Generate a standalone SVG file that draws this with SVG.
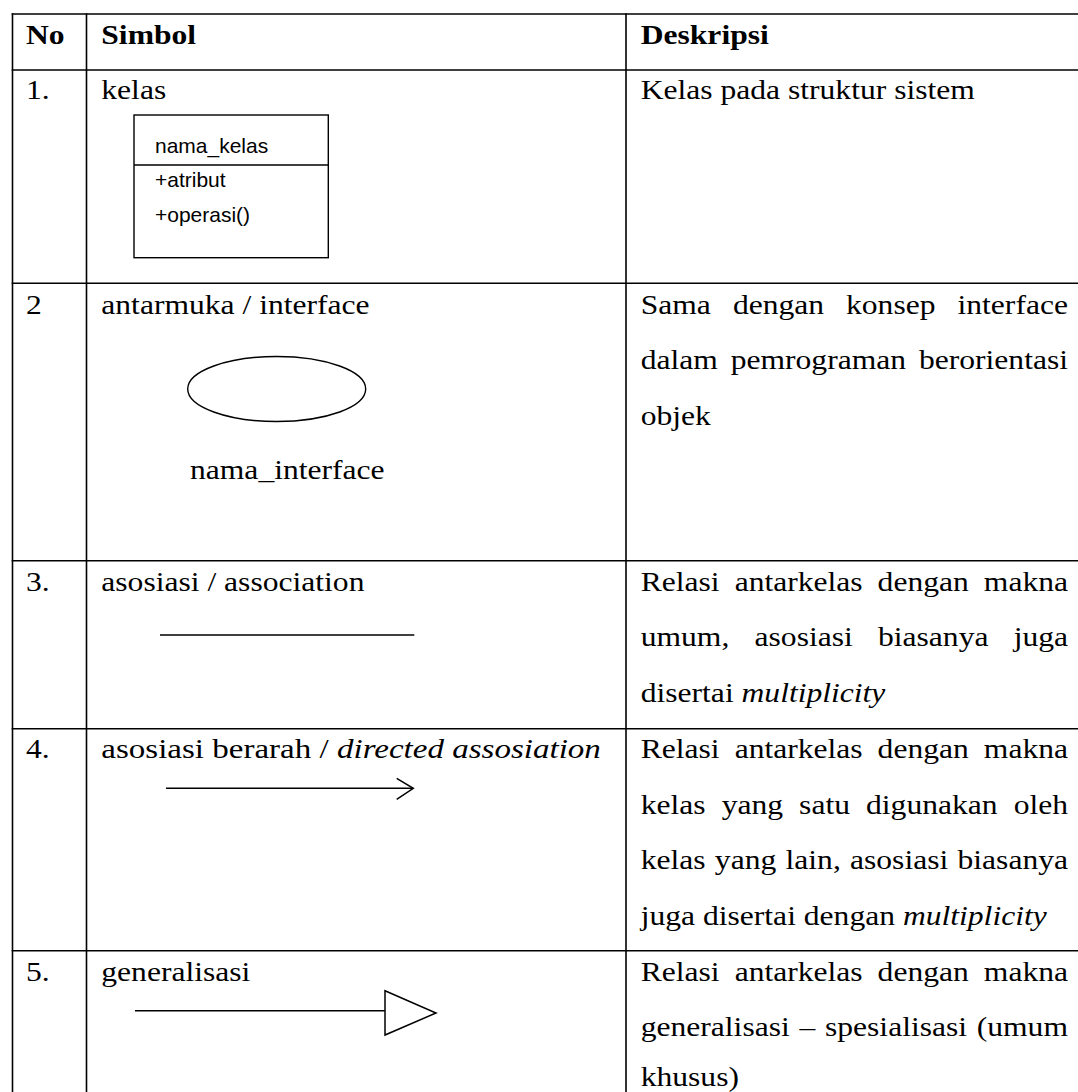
<svg xmlns="http://www.w3.org/2000/svg" width="1078" height="1092" viewBox="0 0 1078 1092">
<style>
.t{font-family:"Liberation Serif","Times New Roman",serif;font-size:27px;fill:#000}
.b{font-weight:bold}
.i{font-style:italic}
.s{font-family:"Liberation Sans",Arial,sans-serif;font-size:20px;fill:#000}
.grid line{stroke:#000;stroke-width:1.6}
.shape{fill:none;stroke:#000;stroke-width:1.4}
.conn{fill:none;stroke:#000;stroke-width:1.5}
</style>
<rect width="1078" height="1092" fill="#fff"/>
<g id="grid" class="grid">
<line x1="11.7" y1="14" x2="1078" y2="14"/>
<line x1="11.7" y1="70" x2="1078" y2="70"/>
<line x1="11.7" y1="283.3" x2="1078" y2="283.3"/>
<line x1="11.7" y1="560.7" x2="1078" y2="560.7"/>
<line x1="11.7" y1="728.7" x2="1078" y2="728.7"/>
<line x1="11.7" y1="950.7" x2="1078" y2="950.7"/>
<line x1="12.5" y1="13.2" x2="12.5" y2="1092"/>
<line x1="86.5" y1="13.2" x2="86.5" y2="1092"/>
<line x1="626" y1="13.2" x2="626" y2="1092"/>
</g>
<g id="header">
<text class="t b" transform="translate(26 44.3) scale(1.17 1)">No</text>
<text class="t b" transform="translate(101.3 44.3) scale(1.17 1)">Simbol</text>
<text class="t b" transform="translate(640.7 44.3) scale(1.17 1)">Deskripsi</text>
</g>
<g id="row1">
<text class="t" transform="translate(26 98.5) scale(1.17 1)">1.</text>
<text class="t" transform="translate(101.3 98.5) scale(1.17 1)">kelas</text>
<g id="class-box">
<rect class="shape" x="134" y="115" width="194.3" height="142.7"/>
<line class="shape" x1="134" y1="165" x2="328.3" y2="165"/>
<text class="s" transform="translate(155 153.3) scale(1.05 1)">nama_kelas</text>
<text class="s" transform="translate(155 186.7) scale(1.05 1)">+atribut</text>
<text class="s" transform="translate(155 221.7) scale(1.05 1)">+operasi()</text>
</g>
<text class="t" transform="translate(640.7 98.5) scale(1.17 1)">Kelas pada struktur sistem</text>
</g>
<g id="row2">
<text class="t" transform="translate(26 313.5) scale(1.17 1)">2</text>
<text class="t" transform="translate(101.3 313.5) scale(1.17 1)">antarmuka / interface</text>
<ellipse id="interface-ellipse" class="shape" cx="276.7" cy="389" rx="89" ry="32.5"/>
<text class="t" transform="translate(190 479.3) scale(1.17 1)">nama_interface</text>
<text class="t" transform="translate(640.7 313.5) scale(1.17 1)"><tspan x="0">Sama</tspan><tspan x="78.8">dengan</tspan><tspan x="175.5">konsep</tspan><tspan x="270.8">interface</tspan></text>
<text class="t" transform="translate(640.7 369) scale(1.17 1)"><tspan x="0">dalam</tspan><tspan x="76.9">pemrograman</tspan><tspan x="237.8">berorientasi</tspan></text>
<text class="t" transform="translate(640.7 424.5) scale(1.17 1)">objek</text>
</g>
<g id="row3">
<text class="t" transform="translate(26 590.7) scale(1.17 1)">3.</text>
<text class="t" transform="translate(101.3 590.7) scale(1.17 1)">asosiasi / association</text>
<text class="t" transform="translate(640.7 590.7) scale(1.17 1)"><tspan x="0">Relasi</tspan><tspan x="80.3">antarkelas</tspan><tspan x="202.5">dengan</tspan><tspan x="293.3">makna</tspan></text>
<text class="t" transform="translate(640.7 646.2) scale(1.17 1)"><tspan x="0">umum,</tspan><tspan x="97.3">asosiasi</tspan><tspan x="202.8">biasanya</tspan><tspan x="318.8">juga</tspan></text>
<text class="t" transform="translate(640.7 701.7) scale(1.17 1)">disertai <tspan class="i">multiplicity</tspan></text>
</g>
<g id="row4">
<text class="t" transform="translate(26 758) scale(1.17 1)">4.</text>
<text class="t" transform="translate(101.3 758) scale(1.17 1)" textLength="427" lengthAdjust="spacingAndGlyphs">asosiasi berarah / <tspan class="i">directed assosiation</tspan></text>
<text class="t" transform="translate(640.7 758) scale(1.17 1)"><tspan x="0">Relasi</tspan><tspan x="80.3">antarkelas</tspan><tspan x="202.5">dengan</tspan><tspan x="293.3">makna</tspan></text>
<text class="t" transform="translate(640.7 813.5) scale(1.17 1)"><tspan x="0">kelas</tspan><tspan x="69.2">yang</tspan><tspan x="135.4">satu</tspan><tspan x="192.6">digunakan</tspan><tspan x="318.8">oleh</tspan></text>
<text class="t" transform="translate(640.7 869) scale(1.17 1)"><tspan x="0">kelas</tspan><tspan x="63.4">yang</tspan><tspan x="123.8">lain,</tspan><tspan x="178.9">asosiasi</tspan><tspan x="270.8">biasanya</tspan></text>
<text class="t" transform="translate(640.7 924.5) scale(1.17 1)">juga disertai dengan <tspan class="i">multiplicity</tspan></text>
</g>
<g id="row5">
<text class="t" transform="translate(26 981) scale(1.17 1)">5.</text>
<text class="t" transform="translate(101.3 981) scale(1.17 1)">generalisasi</text>
<text class="t" transform="translate(640.7 981) scale(1.17 1)"><tspan x="0">Relasi</tspan><tspan x="80.3">antarkelas</tspan><tspan x="202.5">dengan</tspan><tspan x="293.3">makna</tspan></text>
<text class="t" transform="translate(640.7 1036.3) scale(1.17 1)"><tspan x="0">generalisasi</tspan><tspan x="135.7">–</tspan><tspan x="157.5">spesialisasi</tspan><tspan x="287.2">(umum</tspan></text>
<text class="t" transform="translate(640.7 1086) scale(1.17 1)">khusus)</text>
</g>
<g id="connectors">
<line id="association" class="conn" x1="160" y1="635" x2="414.3" y2="635"/>
<line id="directed-line" class="conn" x1="166" y1="788.3" x2="413" y2="788.3"/>
<polyline id="directed-head" class="conn" points="396.7,778.3 413.3,788.3 396.7,799.3"/>
<line id="generalization-line" class="conn" x1="135" y1="1010.7" x2="385" y2="1010.7"/>
<polygon id="generalization-head" class="conn" points="385,990.7 436,1013 385,1035"/>
</g>
</svg>
